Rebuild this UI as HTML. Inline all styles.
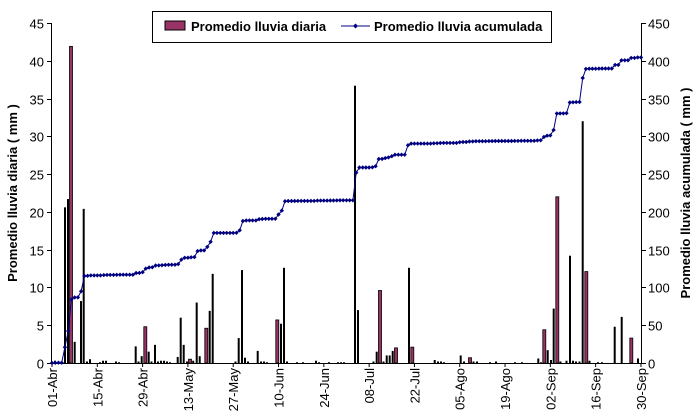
<!DOCTYPE html>
<html><head><meta charset="utf-8"><style>
body{margin:0;background:#fff;}
svg{display:block;font-family:"Liberation Sans",Arial,sans-serif;}
</style></head><body>
<svg id="s" width="694" height="414" xmlns="http://www.w3.org/2000/svg">
<rect width="694" height="414" fill="#fff"/>
<g id="g"></g>
<rect x="152.5" y="11.5" width="399" height="31" fill="#fff" stroke="#000"/>
<rect x="165" y="21" width="20" height="9" fill="#993366" stroke="#000"/>
<text x="191" y="31" font-size="13" font-weight="bold">Promedio lluvia diaria</text>
<line x1="341" y1="26" x2="370" y2="26" stroke="#000080" stroke-width="1"/>
<path d="M355.5 23.5 L358 26 L355.5 28.5 L353 26Z" fill="#000080"/>
<text x="374" y="31" font-size="13" font-weight="bold">Promedio lluvia acumulada</text>
<text transform="translate(17,193) rotate(-90)" text-anchor="middle" font-size="13" font-weight="bold">Promedio lluvia diaria ( mm )</text>
<text transform="translate(690,193) rotate(-90)" text-anchor="middle" font-size="13" font-weight="bold">Promedio lluvia acumulada ( mm )</text>
</svg>
<script>
var g=document.getElementById('g'),h='';
var Y0=363,K=340/45;
function y(v){return Y0-v*K;}
h+='<line x1="51.5" y1="23" x2="51.5" y2="363" stroke="#000"/>';
h+='<line x1="641.5" y1="23" x2="641.5" y2="363" stroke="#000"/>';
h+='<line x1="51" y1="363.5" x2="642" y2="363.5" stroke="#000"/>';
for(var i=0;i<=9;i++){var yy=Math.round(y(i*5))+0.5;
h+='<line x1="47" y1="'+yy+'" x2="51" y2="'+yy+'" stroke="#000"/>';
h+='<line x1="641" y1="'+yy+'" x2="646" y2="'+yy+'" stroke="#000"/>';
h+='<text x="44" y="'+(yy+5)+'" text-anchor="end" font-size="13">'+(i*5)+'</text>';
h+='<text x="648" y="'+(yy+5)+'" font-size="13">'+(i*50)+'</text>';}
var labs=['01-Abr','15-Abr','29-Abr','13-May','27-May','10-Jun','24-Jun','08-Jul','22-Jul','05-Ago','19-Ago','02-Sep','16-Sep','30-Sep'];
for(i=0;i<14;i++){var x=52+i*14*3.236;
h+='<line x1="'+x+'" y1="363" x2="'+x+'" y2="367" stroke="#000"/>';
h+='<text transform="translate('+(x+5)+',368) rotate(-90)" text-anchor="end" font-size="13">'+labs[i]+'</text>';}
var b=[[55,0.3],[58,0.1],[65,20.6],[68,21.7],[71,41.9,1],[74.7,2.8],[81,8.2],[83.7,20.4],[87,0.2],[90,0.5],[100,0.1],[103,0.3],[106,0.3],[116,0.2],[119,0.1],
[135.7,2.2],[138.5,0.2],[141.7,0.9],[145.3,4.8,1],[148.7,1.5],[151.5,0.2],[155,2.4],[158,0.2],[161,0.3],[164,0.3],[167,0.2],[170,0.1],
[177.7,0.8],[180.7,6.0],[183.7,2.4],[187,0.2],[190,0.5,1],[193.2,0.3],[196.7,8.0],[199.7,0.9],[206.3,4.6,1],[209.7,6.9],[212.7,11.8],
[235.5,0.2],[238.7,3.3],[242,12.3],[245,0.7],[248,0.2],[257.7,1.6],[261,0.2],[264,0.2],[267,0.1],[277.3,5.7,1],[281,5.2],[284,12.6],[287,0.2],
[297,0.1],[303,0.1],[316,0.3],[319,0.1],[329,0.1],[338,0.1],[341,0.1],[344,0.1],
[355,36.7],[358,7.0],[373.5,0.2],[376.7,1.5],[380,9.6,1],[383.5,0.2],[386.7,1.0],[389.7,1.0],[392.7,1.6],[396,2.0,1],
[409,12.6],[412.3,2.1,1],[434.7,0.4],[438,0.2],[441,0.2],[444,0.1],[460.7,1.0],[464,0.2],[470,0.7,1],[473.5,0.2],[477,0.2],
[490,0.1],[496,0.2],[515,0.1],[522,0.1],[538.3,0.6],[541,0.1],[544.3,4.4,1],[547.7,1.7],[551,0.4],[553.7,7.2],[557.3,22.0,1],[560.5,0.2],
[566.5,0.3],[570,14.2],[573,0.3],[576,0.2],[579.5,0.2],[582.7,32.0],[586.3,12.1,1],[589.5,0.3],[598,0.1],[602,0.1],[614.7,4.8],[621.7,6.1],[631.3,3.3,1],[638,0.6]];
b.forEach(function(a){var t=y(a[1]);
if(a[2])h+='<rect x="'+(a[0]-1.5)+'" y="'+t+'" width="3" height="'+(Y0-t)+'" fill="#993366" stroke="#000" stroke-width="0.8"/>';
else h+='<rect x="'+(a[0]-1)+'" y="'+t+'" width="2" height="'+(Y0-t)+'" fill="#000"/>';});
var pts=[],mk='';
for(var d=0;d<=182;d++){var x=52+d*3.236,c=0;
b.forEach(function(a){if(a[0]<=x+1.5)c+=a[1];});
var yy=y(c/10*0.993);pts.push(x.toFixed(1)+','+yy.toFixed(1));
mk+='M'+(x-2.2).toFixed(1)+' '+yy.toFixed(1)+'l2.2 -2.2l2.2 2.2l-2.2 2.2z';}
h+='<polyline points="'+pts.join(' ')+'" fill="none" stroke="#000080" stroke-width="1"/>';
h+='<path d="'+mk+'" fill="#000080"/>';
g.innerHTML=h;
</script>
</body></html>
